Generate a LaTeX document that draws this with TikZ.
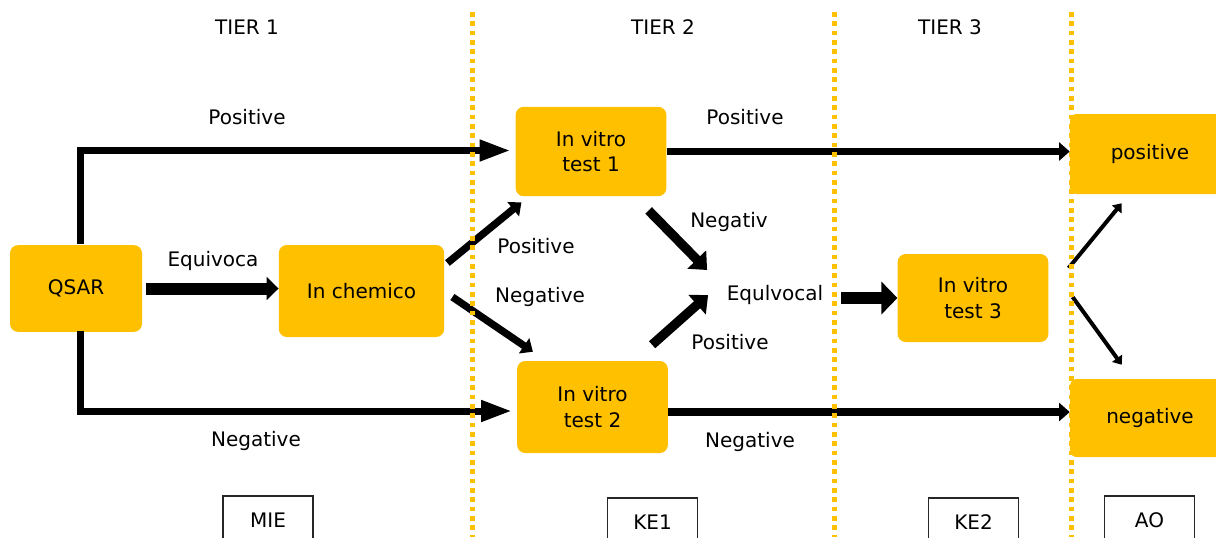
\documentclass[tikz,border=0pt]{standalone}
\usepackage{fontspec}
\setmainfont{DejaVu Sans}
\usepackage{tikz}
\usetikzlibrary{arrows.meta, positioning}
\definecolor{amber}{HTML}{FFC000}

\begin{document}
\begin{tikzpicture}[
  x=0.75pt, y=-0.75pt,
  every node/.style={font=\fontsize{15}{19}\selectfont},
  box/.style={rectangle, fill=amber, rounded corners=6pt, minimum width=113pt, minimum height=67pt, align=center},
  result/.style={rectangle, fill=amber, rounded corners=5pt, minimum width=120pt, minimum height=60pt},
  tag/.style={rectangle, draw=black!85, line width=1pt, fill=white, minimum width=67.5pt, minimum height=36pt},
  longarrow/.style={-{Triangle[length=23pt, width=15pt]}, line width=5.25pt},
  arrow/.style={-{Triangle[length=8pt, width=13.5pt]}, line width=5.5pt},
  bigarrow/.style={-{Triangle[length=11pt, width=19pt]}, line width=7pt},
  thinarrow/.style={-{Triangle[length=6pt, width=9pt]}, line width=3pt},
  blockarrow/.style={-{Triangle[length=9pt, width=17pt]}, line width=9pt},
  divider/.style={amber, line width=3.75pt, dash pattern=on 3.4pt off 3.6pt}
]
  \useasboundingbox (0,0) rectangle (1216,537);

  % Tiers
  \node (tier1) at (247,27) {TIER 1};
  \node (tier2) at (663,27) {TIER 2};
  \node (tier3) at (950,27) {TIER 3};

  % Tests
  \node[box, minimum width=99pt, minimum height=65pt] (qsar) at (76,288.5) {QSAR};
  \node[box, minimum width=124pt, minimum height=69pt] (chem) at (361.5,291) {In chemico};
  \node[box] (test1) at (591,151.5) {In vitro\\test 1};
  \node[box, minimum height=69pt] (test2) at (592.5,407) {In vitro\\test 2};
  \node[box, minimum height=66pt] (test3) at (973,298) {In vitro\\test 3};
  \node (equiv) at (775,295) {Equlvocal};

  % Outcomes
  \node[result] (pos) at (1150,154) {positive};
  \node[result, minimum height=58.5pt] (neg) at (1150,418) {negative};

  % Key events
  \node[tag] (mie) at (268,520) {MIE};
  \node[tag] (ke1) at (652.5,522) {KE1};
  \node[tag] (ke2) at (973.5,522) {KE2};
  \node[tag] (ao) at (1149.5,520) {AO};

  % Arrows
  \draw[longarrow] ([shift={(4,-1)}]qsar.north) |- ([shift={(-5,-1)}]test1.west);
  \draw[longarrow] ([shift={(4,-1)}]qsar.south) |- ([shift={(-5,4)}]test2.west);
  \draw[blockarrow] ([shift={(4,0)}]qsar.east) -- (qsar.east -| chem.west);
  \draw[arrow] ([shift={(3,-28)}]chem.east) -- ([shift={(6,6)}]test1.south west);
  \draw[arrow] ([shift={(8,6)}]chem.east) -- ([shift={(16,-9)}]test2.north west);
  \draw[bigarrow] ([shift={(-18,14)}]test1.south east) -- ([shift={(-15,-25)}]equiv.west);
  \draw[bigarrow] ([shift={(-16,-16)}]test2.north east) -- ([shift={(-14,0)}]equiv.west);
  \draw[blockarrow, -{Triangle[length=12pt, width=24pt]}] ([shift={(-56,0)}]test3.west) -- (test3.west);
  \draw[arrow] (test1.east) -- (test1.east -| pos.west);
  \draw[arrow] ([shift={(0,5)}]test2.east) -- ([shift={(0,5)}]test2.east -| neg.west);
  \draw[thinarrow] ([shift={(20,-30)}]test3.east) -- ([shift={(52,9)}]pos.south west);
  \draw[thinarrow] ([shift={(24,-1)}]test3.east) -- ([shift={(52,-14)}]neg.north west);

  % Labels
  \node (lpos1) at (247,117) {Positive};
  \node (lneg1) at (256,441) {Negative};
  \node (lequiv) at (213,261) {Equivoca};
  \node (lpos2) at (536,246) {Positive};
  \node (lneg2) at (540,297) {Negative};
  \node (lpos3) at (745,117) {Positive};
  \node (lneg3) at (729,222) {Negativ};
  \node (lpos4) at (730,342) {Positive};
  \node (lneg4) at (750,442) {Negative};

  % Tier borders
  \foreach \x in {472,834,1071}
    \draw[divider] (\x,12) -- (\x,537);
\end{tikzpicture}
\end{document}
